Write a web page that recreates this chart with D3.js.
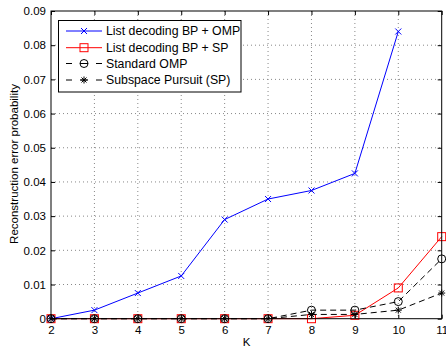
<!DOCTYPE html>
<html><head><meta charset="utf-8">
<script src="https://cdn.jsdelivr.net/npm/d3@7/dist/d3.min.js"></script>
<style>body{margin:0;background:#fff}svg{display:block}text{font-family:"Liberation Sans",Arial,sans-serif}</style>
</head><body><svg id="c" width="446" height="348"></svg>
<script>
const K = [2,3,4,5,6,7,8,9,10,11];
const listOMP = [0,0.0025,0.0075,0.0125,0.029,0.035,0.0375,0.0425,0.084,null];
const listSP = [0,0,0,0,0,0,0,0.001,0.009,0.024];
const stdOMP = [0,0,0,0,0,0,0.0025,0.0025,0.005,0.0175];
const subSP = [0,0,0,0,0,0,0.00125,0.00125,0.0025,0.0075];
const xTicks = [2,3,4,5,6,7,8,9,10,11];
const yTicks = [0,0.01,0.02,0.03,0.04,0.05,0.06,0.07,0.08,0.09];
const legendLabels = ["List decoding BP + OMP","List decoding BP + SP","Standard OMP","Subspace Pursuit (SP)"];

const svg = d3.select("#c");
const L=51, R=441.7, T=11, B=318.7;
const x = d3.scaleLinear().domain([2,11]).range([L,R]);
const y = d3.scaleLinear().domain([0,0.09]).range([B,T]);

// grid
const g = svg.append("g");
xTicks.slice(1,-1).forEach(t=>g.append("line").attr("x1",x(t)).attr("x2",x(t)).attr("y1",T).attr("y2",B)
  .attr("stroke","#888").attr("stroke-width",1).attr("stroke-dasharray","1,3"));
yTicks.slice(1,-1).forEach(t=>g.append("line").attr("x1",L).attr("x2",R).attr("y1",y(t)).attr("y2",y(t))
  .attr("stroke","#888").attr("stroke-width",1).attr("stroke-dasharray","1,3"));

// axes
const FS = 11.5;
const fmt = d=> d===0?"0":d3.format(".2f")(d);
svg.append("g").attr("transform",`translate(0,${B})`).call(d3.axisBottom(x).tickValues(xTicks).tickSizeInner(-4).tickSizeOuter(0).tickPadding(7))
  .call(a=>{a.select(".domain").remove();a.selectAll("text").attr("font-size",FS).attr("fill","#000");a.selectAll("line").attr("stroke","#000");});
svg.append("g").attr("transform",`translate(0,${T})`).call(d3.axisTop(x).tickValues(xTicks).tickSizeInner(-4).tickSizeOuter(0).tickFormat(""))
  .call(a=>{a.select(".domain").remove();a.selectAll("line").attr("stroke","#000");});
svg.append("g").attr("transform",`translate(${L},0)`).call(d3.axisLeft(y).tickValues(yTicks).tickSizeInner(-4).tickSizeOuter(0).tickPadding(5).tickFormat(fmt))
  .call(a=>{a.select(".domain").remove();a.selectAll("text").attr("font-size",FS).attr("fill","#000");a.selectAll("line").attr("stroke","#000");});
svg.append("g").attr("transform",`translate(${R},0)`).call(d3.axisRight(y).tickValues(yTicks).tickSizeInner(-4).tickSizeOuter(0).tickFormat(""))
  .call(a=>{a.select(".domain").remove();a.selectAll("line").attr("stroke","#000");});

svg.append("text").attr("x",246.5).attr("y",346).attr("text-anchor","middle").attr("font-size",FS).text("K");
svg.append("text").attr("transform",`translate(18,164) rotate(-90)`).attr("text-anchor","middle").attr("font-size",FS).text("Reconstruction error probability");

// markers
function marker(sel, type, color){
  if(type==="x"){ sel.append("path").attr("d","M-3,-3L3,3M-3,3L3,-3").attr("stroke",color).attr("fill","none"); }
  else if(type==="sq"){ sel.append("rect").attr("x",-4).attr("y",-4).attr("width",8).attr("height",8).attr("stroke",color).attr("fill","none"); }
  else if(type==="o"){ sel.append("circle").attr("r",4).attr("stroke",color).attr("fill","none"); }
  else if(type==="*"){ sel.append("path").attr("d","M-3.5,0L3.5,0M0,-3.5L0,3.5M-2.5,-2.5L2.5,2.5M-2.5,2.5L2.5,-2.5").attr("stroke",color).attr("fill","none"); }
}
const series = [
  {vals:listOMP,color:"#0000ff",dash:null,m:"x"},
  {vals:listSP,color:"#ff0000",dash:null,m:"sq"},
  {vals:stdOMP,color:"#000",dash:"6,4",m:"o"},
  {vals:subSP,color:"#000",dash:"6,4",m:"*"}
];
const line = d3.line().defined(d=>d[1]!==null).x(d=>x(d[0])).y(d=>y(d[1]));
series.forEach(s=>{
  const pts = K.map((k,i)=>[k,s.vals[i]]);
  svg.append("path").attr("d",line(pts)).attr("fill","none").attr("stroke",s.color).attr("stroke-width",1)
    .attr("stroke-dasharray",s.dash);
  pts.filter(p=>p[1]!==null).forEach(p=>{
    marker(svg.append("g").attr("transform",`translate(${x(p[0])},${y(p[1])})`),s.m,s.color);
  });
});

// box
svg.append("rect").attr("x",L).attr("y",T).attr("width",R-L).attr("height",B-T).attr("fill","none").attr("stroke","#000").attr("stroke-width",1);

// legend
const lg = svg.append("g");
lg.append("rect").attr("x",58.5).attr("y",20.5).attr("width",182.5).attr("height",71.5).attr("fill","#fff").attr("stroke","#000");
const ly=[31,47.7,63.5,80];
series.forEach((s,i)=>{
  if(s.dash){
    lg.append("line").attr("x1",66).attr("x2",72).attr("y1",ly[i]).attr("y2",ly[i]).attr("stroke",s.color);
    lg.append("line").attr("x1",96).attr("x2",102).attr("y1",ly[i]).attr("y2",ly[i]).attr("stroke",s.color);
    lg.append("line").attr("x1",80).attr("x2",88).attr("y1",ly[i]).attr("y2",ly[i]).attr("stroke",s.color);
  } else {
    lg.append("line").attr("x1",66).attr("x2",102).attr("y1",ly[i]).attr("y2",ly[i]).attr("stroke",s.color);
  }
  marker(lg.append("g").attr("transform",`translate(84,${ly[i]})`),s.m,s.color);
  lg.append("text").attr("x",106).attr("y",ly[i]+4.3).attr("font-size",12.3).text(legendLabels[i]);
});
</script></body></html>
